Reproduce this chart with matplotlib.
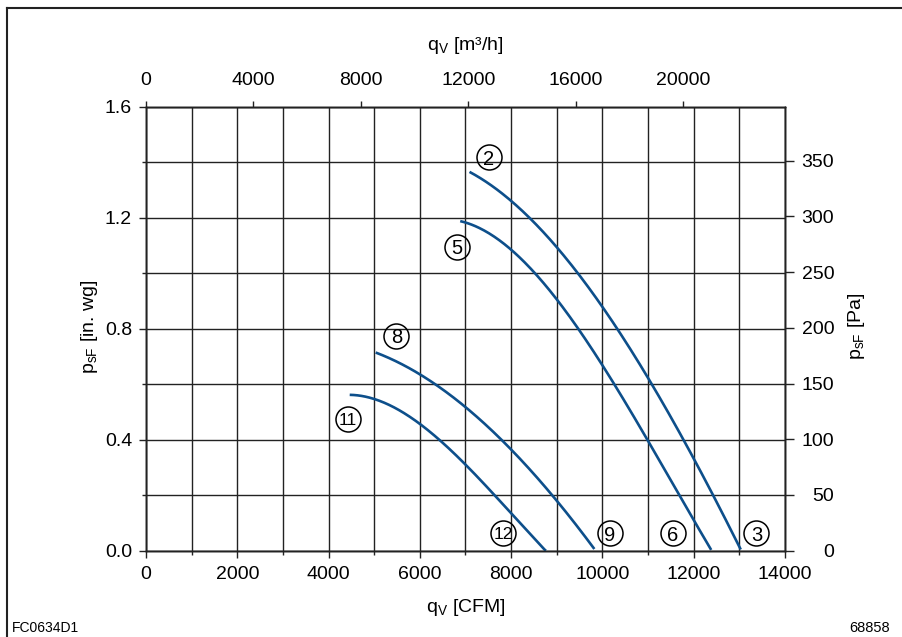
import numpy as np
import matplotlib.pyplot as plt
from matplotlib.lines import Line2D
from matplotlib.ticker import MultipleLocator

plt.rcParams['font.family'] = ['Liberation Sans', 'DejaVu Sans']
plt.rcParams['mathtext.fontset'] = 'custom'
plt.rcParams['mathtext.rm'] = 'Liberation Sans'
plt.rcParams['mathtext.it'] = 'Liberation Sans:italic'

# fan curves: q_V in CFM, p_sF in in. wg
curve_2_q = [7088, 8000, 8400, 9000, 9422, 10000, 10500, 11000, 11500, 12000, 12265, 12650, 13030]
curve_2_p = [1.366, 1.255, 1.200, 1.100, 1.015, 0.875, 0.750, 0.615, 0.480, 0.340, 0.255, 0.128, 0.0]

curve_5_q = [6884, 7500, 8000, 8470, 9000, 9500, 10000, 10500, 11000, 11500, 11950, 12383]
curve_5_p = [1.186, 1.145, 1.090, 1.011, 0.900, 0.790, 0.670, 0.535, 0.395, 0.254, 0.128, 0.0]

curve_8_q = [5032, 5500, 5994, 6500, 6979, 7500, 8000, 8500, 9000, 9400, 9823]
curve_8_p = [0.709, 0.683, 0.645, 0.585, 0.515, 0.435, 0.360, 0.280, 0.190, 0.100, 0.0]

curve_11_q = [4463, 5010, 5500, 5994, 6500, 6869, 7200, 7454, 8100, 8765]
curve_11_p = [0.564, 0.543, 0.508, 0.459, 0.390, 0.339, 0.275, 0.228, 0.115, 0.0]

label_text = ['2', '5', '8', '11', '12', '9', '6', '3']
label_q = [7504, 6811, 5484, 4426, 7832, 10166, 11536, 13374]
label_p = [1.418, 1.095, 0.774, 0.473, 0.063, 0.063, 0.063, 0.063]

CFM_TO_M3H = 1.699
INWG_TO_PA = 249.09
Q_MAX = 14000
P_MAX = 1.6

grid_col = '#222222'
line_col = '#0d4f8b'

fig = plt.figure(figsize=(9.03, 6.37), dpi=100)
ax = fig.add_axes([146 / 903, 1 - 550.7 / 637, 639 / 903, 444 / 637])
axr = ax.twinx()
axt = ax.twiny()

# smooth the read-off points with a cubic fit so the curves are not kinked
for q, p in [(curve_2_q, curve_2_p), (curve_5_q, curve_5_p),
             (curve_8_q, curve_8_p), (curve_11_q, curve_11_p)]:
    coef = np.polyfit(q, p, 3)
    qq = np.linspace(q[0], q[-1], 200)
    pp = np.clip(np.polyval(coef, qq), 0, None)
    ax.plot(qq, pp, color=line_col, lw=1.9, solid_capstyle='butt', zorder=3)

for t, q, p in zip(label_text, label_q, label_p):
    ax.plot(q, p, 'o', ms=18, mfc='none', mec='black', mew=1.1, zorder=4)
    ax.text(q, p, t, ha='center', va='center_baseline',
            fontsize=12.5 if len(t) > 1 else 14.5, zorder=5)

ax.set_xlim(0, Q_MAX)
ax.set_ylim(0, P_MAX)
ax.xaxis.set_major_locator(MultipleLocator(2000))
ax.xaxis.set_minor_locator(MultipleLocator(1000))
ax.yaxis.set_major_locator(MultipleLocator(0.4))
ax.yaxis.set_minor_locator(MultipleLocator(0.2))
ax.yaxis.set_major_formatter(lambda v, pos: f'{v:.1f}')
ax.grid(which='both', color=grid_col, lw=1.0)
ax.tick_params(which='major', direction='out', length=5, width=1.0,
               labelsize=14, color=grid_col)
ax.tick_params(which='minor', direction='out', length=3, width=1.0, color=grid_col)
ax.tick_params(axis='x', which='major', pad=6)
ax.tick_params(axis='y', which='major', pad=5)

axr.set_ylim(0, P_MAX * INWG_TO_PA)
axr.set_yticks(np.arange(0, 351, 50))
axr.tick_params(axis='y', direction='out', length=6.5, width=1.0, labelsize=14,
                pad=29, color=grid_col)
for lbl in axr.get_yticklabels():
    lbl.set_horizontalalignment('right')

axt.set_xlim(0, Q_MAX * CFM_TO_M3H)
axt.set_xticks(np.arange(0, 20001, 4000))
axt.tick_params(axis='x', direction='out', length=4.5, width=1.0, labelsize=14,
                pad=8, color=grid_col)

for a in (ax, axr, axt):
    for s in a.spines.values():
        s.set_color(grid_col)
        s.set_linewidth(1.0)

ax.set_xlabel(r'q$_\mathrm{V}$ [CFM]', fontsize=14, va='center')
ax.xaxis.set_label_coords(0.5, (550.7 - 608) / 444)
axt.set_xlabel(r'q$_\mathrm{V}$ [m³/h]', fontsize=14, va='center')
axt.xaxis.set_label_coords(0.5, (550.7 - 46) / 444)
ax.set_ylabel(r'p$_\mathrm{sF}$ [in. wg]', fontsize=14, va='center')
ax.yaxis.set_label_coords((90 - 146) / 639, 0.505)
axr.set_ylabel(r'p$_\mathrm{sF}$ [Pa]', fontsize=14, va='center', rotation=90)
axr.yaxis.set_label_coords((857 - 146) / 639, 0.505)

fig.text(12 / 903, 1 - 628 / 637, 'FC0634D1', fontsize=10, ha='left', va='center')
fig.text(890 / 903, 1 - 628 / 637, '68858', fontsize=10.5, ha='right', va='center')

# frame on the left and top edges
fig.add_artist(Line2D([7 / 903, 7 / 903], [0, 1 - 8 / 637], color='#222222', lw=1.5))
fig.add_artist(Line2D([7 / 903, 1], [1 - 8 / 637, 1 - 8 / 637], color='#222222', lw=1.5))

fig.savefig('out.png', dpi=100)
